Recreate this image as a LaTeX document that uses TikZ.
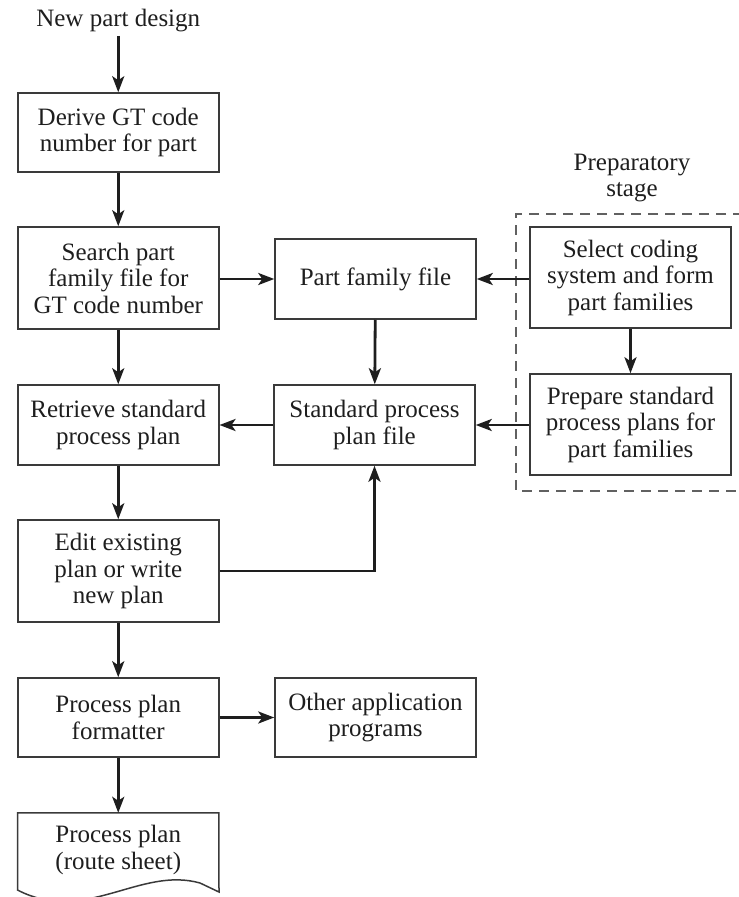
\documentclass[tikz,border=0pt]{standalone}
\usepackage{fontspec}
\setmainfont{Liberation Serif}
\usetikzlibrary{arrows.meta}
\definecolor{ink}{HTML}{1E1E1E}
\definecolor{frame}{HTML}{3A3A3A}
\begin{document}
\begin{tikzpicture}[x=1pt,y=-1pt,
  txt/.style={font=\fontsize{25}{26.5}\selectfont, text=ink, align=center},
  box/.style={txt, draw=frame, line width=1.5pt, inner sep=0pt, minimum width=201pt},
  arr/.style={draw=ink, line width=2.8pt, -{Stealth[length=16pt,width=12pt,inset=4pt]}}]
\useasboundingbox (0,0) rectangle (739,897);
% title
\node[txt] (new) at (118.25,21) {New part design};
% left column
\node[box, minimum height=79pt]  (b1)  at (118.25,132.5) {Derive GT code\\number for part};
\node[box, minimum height=102pt] (b2)  at (118.25,278)   {Search part\\family file for\\GT code number};
\node[box, minimum height=80pt]  (ret) at (118.25,425)   {Retrieve standard\\process plan};
\node[box, minimum height=102pt] (edit) at (118.25,571)  {Edit existing\\plan or write\\new plan};
\node[box, minimum height=79pt]  (fmt) at (118.25,717.5) {Process plan\\formatter};
\node[txt, inner sep=0pt, minimum width=201pt, minimum height=74pt] (doc) at (118.25,850) {Process plan\\(route sheet)};
\draw[frame, line width=1.5pt] (doc.north west) -- (doc.north east) -- (219,892)
  -- (200,883) .. controls (140,866) and (85,925) .. (17.5,890) -- cycle;
% middle column
\node[box, minimum height=80pt] (pff) at (375.5,279)   {Part family file};
\node[box, minimum height=80pt] (std) at (374.5,425)   {Standard process\\plan file};
\node[box, minimum height=79pt] (oth) at (375.5,717.5) {Other application\\programs};
% right column
\node[txt] (prepl) at (632,178) {Preparatory\\stage};
\node[box, minimum height=101pt] (sel)  at (630.5,277.5) {Select coding\\system and form\\part families};
\node[box, minimum height=101pt] (prep) at (630.5,424.5) {Prepare standard\\process plans for\\part families};
\draw[draw=frame!80, line width=1.5pt, dash pattern=on 10pt off 7pt] (760,214) -- (516,214) -- (516,491) -- (760,491);
% connectors
\draw[arr] (new) -- (b1);
\draw[arr] (b1) -- (b2);
\draw[arr] (b2) -- (ret);
\draw[arr] (ret) -- (edit);
\draw[arr] (edit) -- (fmt);
\draw[arr] (fmt) -- (doc.north);
\draw[arr] (b2.east |- pff.west) -- (pff.west);
\draw[arr] (sel.west |- pff.east) -- (pff.east);
\draw[arr] (pff) -- (std);
\draw[arr] (sel) -- (prep);
\draw[arr] (prep.west |- std.east) -- (std.east);
\draw[arr] (std.west) -- (ret.east |- std.west);
\draw[arr] (edit.east) -| (std.south);
\draw[arr] (fmt.east) -- (oth.west);
\end{tikzpicture}
\end{document}
